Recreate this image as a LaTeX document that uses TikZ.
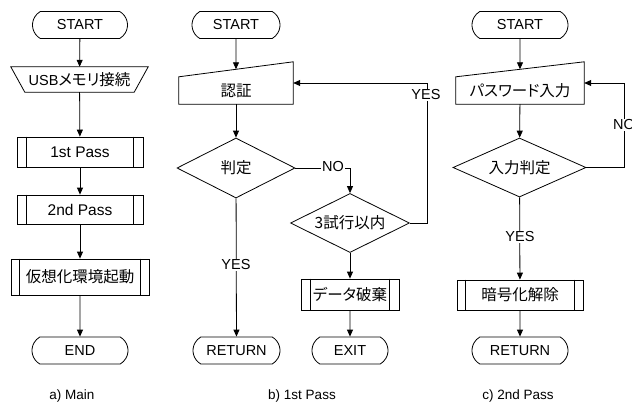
\documentclass[tikz,border=0pt]{standalone}
\usepackage{fontspec}
\setmainfont{Liberation Sans}
\newfontfamily\jpfont[RawFeature=+palt]{Noto Sans CJK JP}
\usetikzlibrary{arrows.meta,shapes.geometric,shapes.misc}
\newcommand\J[1]{{\jpfont\fontsize{15.5}{17}\selectfont #1}}
\newcommand\predlines[2]{\draw[line] ([xshift=#2]#1.north west) -- ([xshift=#2]#1.south west) ([xshift=-#2]#1.north east) -- ([xshift=-#2]#1.south east);}
\newcommand\manin[1]{\draw[line] (#1.south west) -- (#1.north west) -- ([yshift=15pt]#1.north east) -- (#1.south east) -- cycle;}
\begin{document}
\begin{tikzpicture}[x=1pt,y=-1pt,
  every node/.style={font=\fontsize{14.5}{16}\selectfont},
  line/.style={draw=black, line width=0.8pt},
  arr/.style={line, -{Triangle[length=7pt,width=6pt]}},
  term/.style={rounded rectangle, rounded rectangle arc length=120, draw, line width=0.8pt, minimum height=27pt, inner sep=0pt},
  proc/.style={rectangle, draw, line width=0.8pt, minimum height=30pt, inner sep=0pt},
  dec/.style={diamond, aspect=2, draw, line width=0.8pt, inner sep=0pt},
  plain/.style={inner sep=0pt},
  lbl/.style={fill=white, inner sep=1pt},
  caption/.style={font=\fontsize{13.5}{15}\selectfont}]
\useasboundingbox (0,0) rectangle (632,405);

% ---------- a) Main ----------
\node[term, minimum width=95pt] (astart) at (80,25) {START};
\node[plain, minimum width=109pt, minimum height=25pt] (usb) at (79.5,79.5) {USB\J{メモリ接続}};
\draw[line] ([xshift=-14pt]usb.north west) -- ([xshift=14pt]usb.north east) -- (usb.south east) -- (usb.south west) -- cycle;
\node[proc, minimum width=126pt, font=\fontsize{15.5}{17}\selectfont] (p1) at (80,152) {1st Pass};
\predlines{p1}{10pt}
\node[proc, minimum width=126pt, minimum height=29pt, font=\fontsize{15.5}{17}\selectfont] (p2) at (80,209.5) {2nd Pass};
\predlines{p2}{10pt}
\node[proc, minimum width=138pt, minimum height=36pt] (virt) at (80,277) {\J{仮想化環境起動}};
\predlines{virt}{9pt}
\node[term, minimum width=96pt] (aend) at (80,350.5) {END};
\draw[arr] (astart) -- (usb);
\draw[arr] (usb) -- (p1);
\draw[arr] (p1) -- (p2);
\draw[arr] (p2) -- (virt);
\draw[arr] (virt) -- (aend);
\node[caption] (capa) at (72,396) {a) Main};

% ---------- b) 1st Pass ----------
\node[term, minimum width=88pt] (bstart) at (236,25) {START};
\node[plain, minimum width=114pt, minimum height=27pt] (auth) at (236,90.5) {\J{認証}};
\manin{auth}
\coordinate (authtop) at ([yshift=7.5pt]auth.north);
\node[dec, minimum width=118pt, minimum height=60pt] (judge) at (236,168) {\J{判定}};
\node[term, minimum width=87pt] (bret) at (236.5,350.5) {RETURN};
\node[dec, minimum width=119pt, minimum height=59pt] (try) at (350,223) {\J{3試行以内}};
\node[proc, minimum width=98pt, minimum height=31pt] (destroy) at (350,294.5) {\J{データ破棄}};
\predlines{destroy}{10pt}
\node[term, minimum width=76pt] (exit) at (350,350.5) {EXIT};
\coordinate (bc1) at (427,83);
\draw[arr] (bstart) -- (authtop);
\draw[arr] (auth) -- (judge);
\draw[arr] (judge) -- (bret);
\draw[arr] (judge.east) -| (try.north);
\draw[arr] (try.east) -| (bc1) -- (auth.east |- bc1);
\draw[arr] (try) -- (destroy);
\draw[arr] (destroy) -- (exit);
\node[lbl] (bno) at (333,167) {NO};
\node[lbl] (byes1) at (236,265) {YES};
\node[lbl] (byes2) at (426,95) {YES};
\node[caption] (capb) at (302,396) {b) 1st Pass};

% ---------- c) 2nd Pass ----------
\node[term, minimum width=96pt] (cstart) at (520,25) {START};
\node[plain, minimum width=128pt, minimum height=27pt] (pw) at (520,90.5) {\J{パスワード入力}};
\manin{pw}
\coordinate (pwtop) at ([yshift=7.5pt]pw.north);
\node[dec, minimum width=133pt, minimum height=59pt] (cjudge) at (519.5,167.5) {\J{入力判定}};
\node[proc, minimum width=126pt] (decrypt) at (520,295) {\J{暗号化解除}};
\predlines{decrypt}{9pt}
\node[term, minimum width=96pt] (cret) at (520,350.5) {RETURN};
\coordinate (cc1) at (624,83);
\draw[arr] (cstart) -- (pwtop);
\draw[arr] (pw) -- (cjudge);
\draw[arr] (cjudge) -- (decrypt);
\draw[arr] (decrypt) -- (cret);
\draw[arr] (cjudge.east) -| (cc1) -- (pw.east |- cc1);
\node[lbl] (cyes) at (520,237) {YES};
\node[lbl] (cno) at (624,125) {NO};
\node[caption] (capc) at (518,396) {c) 2nd Pass};
\end{tikzpicture}
\end{document}
